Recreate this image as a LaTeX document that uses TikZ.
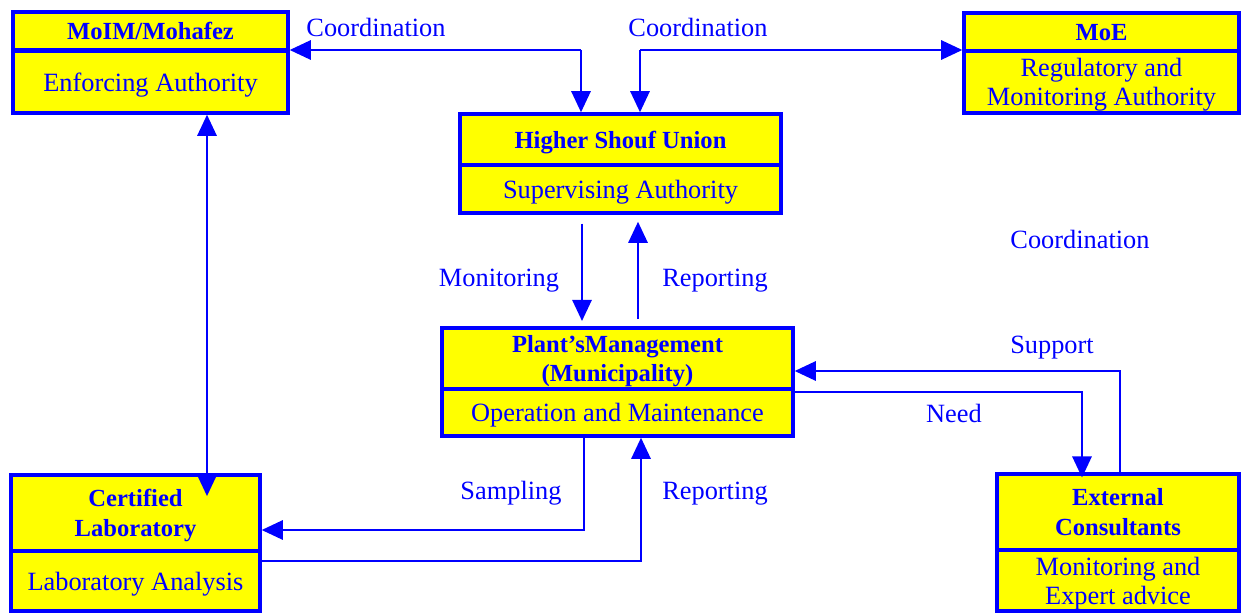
\documentclass[tikz,border=0pt]{standalone}
\usepackage{fontspec}
\setmainfont{Liberation Serif}
\usepackage{xcolor}
\usepackage{tikz}
\usetikzlibrary{calc,arrows.meta}
\definecolor{ink}{HTML}{0000FF}
\definecolor{paper}{HTML}{FFFF00}
\tikzset{
  ttl/.style={draw=ink, fill=paper, line width=2pt, inner sep=0pt, align=center, text=ink,
    text depth=0pt, font=\fontsize{14}{17}\selectfont\bfseries},
  sub/.style={draw=ink, fill=paper, line width=2pt, inner sep=0pt, align=center, text=ink,
    text depth=0pt, font=\fontsize{15}{16.5}\selectfont},
  conn/.style={draw=ink, line width=1.1pt},
  lab/.style={text=ink, anchor=base, font=\fontsize{15}{17}\selectfont},
}

\begin{document}
\begin{tikzpicture}[x=0.02cm, y=-0.02cm, >={Triangle[length=12pt,width=11pt]}]
  \useasboundingbox (0,0) rectangle (1243,615);

  % boxes: title part on top, role part below
  \node[ttl, minimum width=5.5cm, minimum height=0.76cm] (moimT) at (150.5,31) {MoIM/Mohafez};
  \node[sub, minimum width=5.5cm, minimum height=1.24cm] (moimS) at (150.5,82) {Enforcing Authority};

  \node[ttl, minimum width=6.42cm, minimum height=1.02cm] (hsuT) at (620.5,139.5) {Higher Shouf Union};
  \node[sub, minimum width=6.42cm, minimum height=0.96cm] (hsuS) at (620.5,189) {Supervising Authority};

  \node[ttl, minimum width=5.5cm, minimum height=0.76cm] (moeT) at (1101.5,32) {MoE};
  \node[sub, minimum width=5.5cm, minimum height=1.24cm] (moeS) at (1101.5,82) {Regulatory and\\Monitoring Authority};

  \node[ttl, minimum width=7.02cm, minimum height=1.22cm] (plantT) at (617.5,358.5) {Plant’sManagement\\(Municipality)};
  \node[sub, minimum width=7.02cm, minimum height=0.94cm] (plantS) at (617.5,412.5) {Operation and Maintenance};

  \node[ttl, minimum width=4.98cm, minimum height=1.52cm] (labT) at (135.5,513) {Certified\\Laboratory};
  \node[sub, minimum width=4.98cm, minimum height=1.2cm] (labS) at (135.5,581) {Laboratory Analysis};

  \node[ttl, minimum width=4.84cm, minimum height=1.52cm] (extT) at (1118,512) {External\\Consultants};
  \node[sub, minimum width=4.84cm, minimum height=1.22cm] (extS) at (1118,580.5) {Monitoring and\\Expert advice};

  % bend points of the connectors
  \coordinate (cl) at (581,50);
  \coordinate (cr) at (640,50);
  \coordinate (ml) at (207,0);
  \coordinate (mo) at (582,0);
  \coordinate (rp) at (638,0);
  \coordinate (sa) at (584,530);
  \coordinate (rl) at (641,561);
  \coordinate (su) at (1120,371);
  \coordinate (ne) at (1082,392);

  \draw[conn,->] (cl) -- (cl -| moimT.east);
  \draw[conn,->] (cl) -- (cl |- hsuT.north);
  \draw[conn,->] (cr) -- (cr -| moeT.west);
  \draw[conn,->] (cr) -- (cr |- hsuT.north);

  \draw[conn,<->,shorten >=-13pt] (ml |- moimS.south) -- (ml |- labT.north);

  \draw[conn,->,shorten <=5pt,shorten >=3pt] (mo |- hsuS.south) -- (mo |- plantT.north);
  \draw[conn,->,shorten <=4pt,shorten >=4pt] (rp |- plantT.north) -- (rp |- hsuS.south);

  \draw[conn,->] (sa |- plantS.south) -- (sa) -- (sa -| labT.east);
  \draw[conn,->] (rl -| labS.east) -- (rl) -- (rl |- plantS.south);

  \draw[conn,->] (su |- extT.north) -- (su) -- (su -| plantT.east);
  \draw[conn,->,shorten >=-3pt] (ne -| plantS.east) -- (ne) -- (ne |- extT.north);

  % connector labels
  \node[lab] (lcl) at (376,37) {Coordination};
  \node[lab] (lcr) at (698,37) {Coordination};
  \node[lab] (lmo) at (499,286) {Monitoring};
  \node[lab] (lrp) at (715,286) {Reporting};
  \node[lab] (lco) at (1080,248) {Coordination};
  \node[lab] (lsu) at (1052,353) {Support};
  \node[lab] (lne) at (954,422) {Need};
  \node[lab] (lsa) at (511,499) {Sampling};
  \node[lab] (lrl) at (715,499) {Reporting};
\end{tikzpicture}
\end{document}
